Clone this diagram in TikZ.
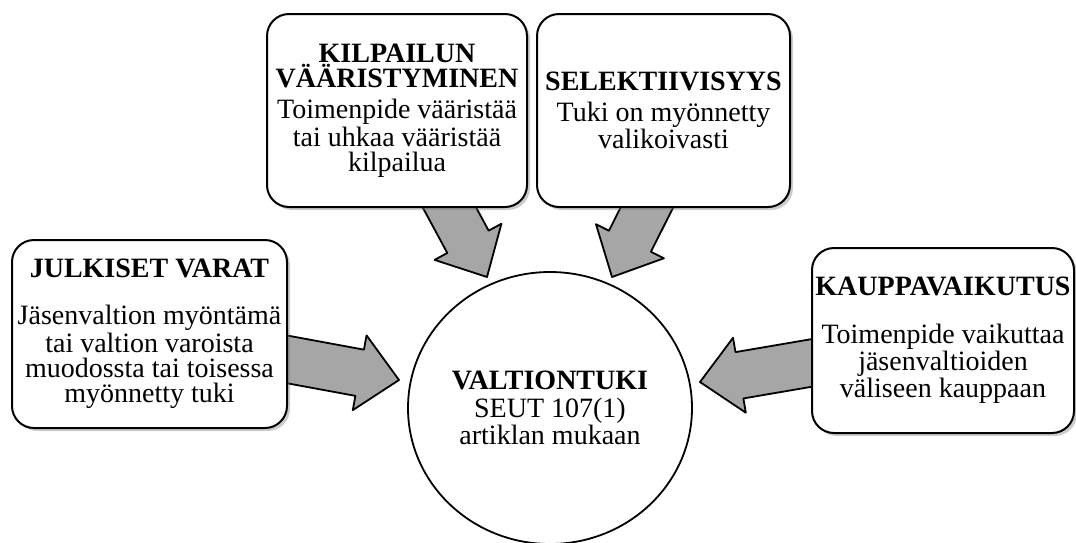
\documentclass[tikz,border=0pt]{standalone}
\usepackage{fontspec}
\setmainfont{Liberation Serif}
\usetikzlibrary{positioning,calc,shadows,shapes.geometric,backgrounds}

% block arrow from #1 to the tip #2
\newcommand{\blockarrow}[2]{%
  \coordinate (h) at ($(#2)!20pt!(#1)$);
  \draw[bigarrow] ($(#1)!11.75pt!90:(#2)$) -- ($(h)!11.75pt!90:(#2)$)
    -- ($(h)!19pt!90:(#2)$) -- (#2) -- ($(h)!19pt!-90:(#2)$)
    -- ($(h)!11.75pt!-90:(#2)$) -- ($(#1)!11.75pt!-90:(#2)$) -- cycle;}

\begin{document}
\begin{tikzpicture}[x=0.5pt, y=-0.5pt,
  box/.style={draw, line width=1pt, rounded corners=11pt, fill=white, align=center,
    inner sep=0pt, font=\fontsize{14}{12.6}\selectfont,
    drop shadow={shadow xshift=1.5pt, shadow yshift=-1.5pt, opacity=0.4}},
  bigarrow/.style={draw, line width=0.9pt, fill=black!35, line join=round}]
  \useasboundingbox (0,0) rectangle (1076,542);

  \node[ellipse, draw, line width=0.9pt, minimum width=142pt, minimum height=136pt,
        inner sep=0pt, align=center, font=\fontsize{14}{13.75}\selectfont]
        (tuki) at (550,408) {\textbf{VALTIONTUKI}\\ SEUT 107(1)\\ artiklan mukaan};

  \node[box, minimum width=137.5pt, minimum height=94pt] (jv) at (149.5,334)
    {\textbf{JULKISET VARAT}\\[11pt] Jäsenvaltion myöntämä\\ tai valtion varoista\\
     muodossta tai toisessa\\ myönnetty tuki};
  \node[box, minimum width=130pt, minimum height=96.5pt] (kil) at (397,110.5)
    {\textbf{KILPAILUN}\\ \textbf{VÄÄRISTYMINEN}\\[3pt] Toimenpide vääristää\\
     tai uhkaa vääristää\\ kilpailua};
  \node[box, minimum width=126.5pt, minimum height=96.5pt, right=4pt of kil] (sel)
    {\textbf{SELEKTIIVISYYS}\\[3pt] Tuki on myönnetty\\ valikoivasti};
  \node[box, minimum width=131pt, minimum height=92.5pt] (kau) at (943,340.5)
    {\textbf{KAUPPAVAIKUTUS}\\[11pt] Toimenpide vaikuttaa\\ jäsenvaltioiden\\
     väliseen kauppaan};

  \coordinate (jvtip) at (399,380);
  \coordinate (kiltip) at (487,277);
  \coordinate (seltip) at (612,277);
  \coordinate (kautip) at (700,382);
  \coordinate (selsrc) at ($(sel.center)+(32,0)$);

  \begin{scope}[on background layer]
    \blockarrow{jv}{jvtip}
    \blockarrow{kil}{kiltip}
    \blockarrow{selsrc}{seltip}
    \blockarrow{kau}{kautip}
  \end{scope}
\end{tikzpicture}
\end{document}
